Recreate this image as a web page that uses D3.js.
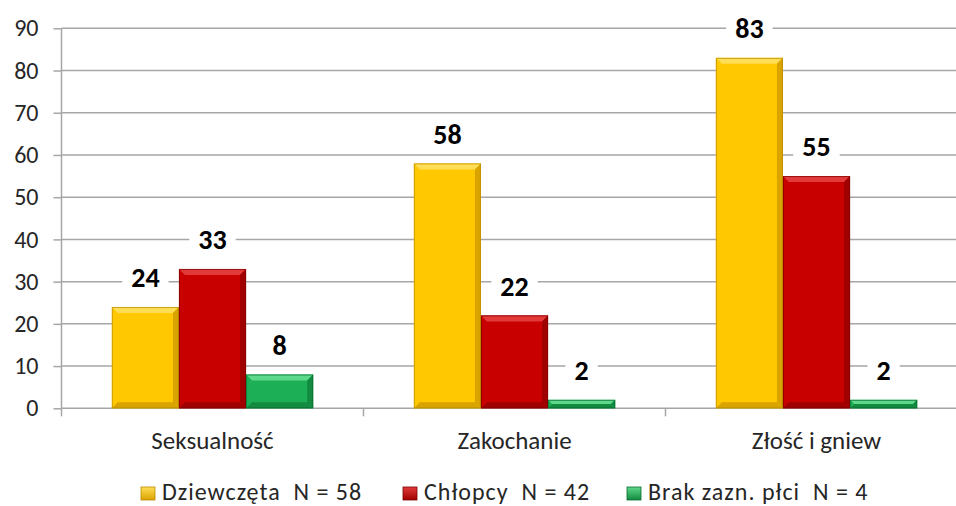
<!DOCTYPE html>
<html><head><meta charset="utf-8">
<script src="https://cdn.jsdelivr.net/npm/d3@7"></script>
<style>body{margin:0;background:#fff}svg{display:block}</style>
</head><body>
<svg id="c" width="956" height="506"></svg>
<script>
const categories = ["Seksualność", "Zakochanie", "Złość i gniew"];
const seriesNames = ["Dziewczęta\u00A0 N = 58", "Chłopcy\u00A0 N = 42", "Brak zazn. płci\u00A0 N = 4"];
const girls = [24, 58, 83];
const boys = [33, 22, 55];
const none = [8, 2, 2];
const yTicks = [0, 10, 20, 30, 40, 50, 60, 70, 80, 90];

const seriesValues = [girls, boys, none];
const colors = [
  {main:"#FFC800", hi:"#FFDD55", dark:"#D9A400", edge:"#B88C00"},
  {main:"#C80000", hi:"#E23A3A", dark:"#A00000", edge:"#7A0000"},
  {main:"#1CAF55", hi:"#5ED88A", dark:"#128A40", edge:"#0C6B30"}
];
const FONT = "Carlito, Lato, 'Open Sans', sans-serif";

const svg = d3.select("#c");
const plotLeft = 61.5, step = 302, plotTop = 28.3, plotBottom = 408.3;

const x0 = d3.scaleBand().domain(categories).range([plotLeft, plotLeft + step * categories.length]).paddingInner(0).paddingOuter(0);
const x1 = d3.scaleBand().domain(d3.range(seriesNames.length)).range([0, x0.bandwidth()]).paddingInner(0).paddingOuter(0.75);
const y = d3.scaleLinear().domain([0, 90]).range([plotBottom, plotTop]);

// gridlines
svg.append("g").selectAll("line").data(yTicks.filter(d => d > 0)).join("line")
  .attr("x1", plotLeft).attr("x2", 956).attr("y1", d => y(d)).attr("y2", d => y(d))
  .attr("stroke", "#A6A6A6").attr("stroke-width", 1.5);

// y axis
const yAxis = svg.append("g").attr("transform", `translate(${plotLeft},0)`)
  .call(d3.axisLeft(y).tickValues(yTicks).tickSize(8).tickPadding(15));
yAxis.select(".domain").attr("stroke", "#A6A6A6").attr("stroke-width", 1.5).attr("d", `M0,${plotTop}V${plotBottom}`);
yAxis.selectAll(".tick line").attr("stroke", "#A6A6A6").attr("stroke-width", 1.5);
yAxis.selectAll(".tick text").attr("font-family", FONT).attr("font-size", 24).attr("fill", "#262626");

// x axis
const xAxis = svg.append("g").attr("transform", `translate(0,${plotBottom})`)
  .call(d3.axisBottom(x0).tickSize(0).tickPadding(23));
xAxis.select(".domain").attr("stroke", "#A6A6A6").attr("stroke-width", 1.5).attr("d", `M${plotLeft},0H956`);
xAxis.selectAll(".tick text").attr("font-family", FONT).attr("font-size", 25).attr("fill", "#262626");
svg.append("g").selectAll("line").data(categories).join("line")
  .attr("x1", d => x0(d)).attr("x2", d => x0(d)).attr("y1", plotBottom).attr("y2", plotBottom + 8)
  .attr("stroke", "#A6A6A6").attr("stroke-width", 1.5);

// bars
const barData = [];
seriesValues.forEach((vals, s) => vals.forEach((v, i) => barData.push({s, cat: categories[i], v})));
const bars = svg.append("g").selectAll("g").data(barData).join("g");
bars.each(function(d) {
  const g = d3.select(this);
  const c = colors[d.s];
  const bx = x0(d.cat) + x1(d.s), bw = x1.bandwidth();
  const by = y(d.v), bh = y(0) - y(d.v);
  const b = Math.min(6, bh / 2);
  g.append("rect").attr("x", bx).attr("y", by).attr("width", bw).attr("height", bh).attr("fill", c.main);
  g.append("polygon").attr("points", [[bx,by],[bx+bw,by],[bx+bw-b,by+b],[bx+b,by+b]].map(p=>p.join(",")).join(" ")).attr("fill", c.hi);
  g.append("polygon").attr("points", [[bx+bw,by],[bx+bw,by+bh],[bx+bw-b,by+bh-b],[bx+bw-b,by+b]].map(p=>p.join(",")).join(" ")).attr("fill", c.dark);
  g.append("polygon").attr("points", [[bx,by+bh],[bx+bw,by+bh],[bx+bw-b,by+bh-b],[bx+b,by+bh-b]].map(p=>p.join(",")).join(" ")).attr("fill", c.dark);
  g.append("rect").attr("x", bx+0.5).attr("y", by+0.5).attr("width", bw-1).attr("height", Math.max(0, bh-1))
    .attr("fill", "none").attr("stroke", c.edge).attr("stroke-width", 1).attr("opacity", 0.7);
});

// labels
const labels = svg.append("g").selectAll("g").data(barData).join("g")
  .attr("transform", d => `translate(${x0(d.cat) + x1(d.s) + x1.bandwidth()/2},${y(d.v) - 30})`);
labels.each(function(d) {
  const g = d3.select(this);
  const rect = g.append("rect").attr("fill", "#fff");
  const t = g.append("text").text(d.v).attr("text-anchor", "middle").attr("dy", "0.36em")
    .attr("font-family", FONT).attr("font-weight", "bold").attr("font-size", 28).attr("fill", "#000");
  const w = t.node().getComputedTextLength();
  rect.attr("x", -w/2 - 9).attr("width", w + 18).attr("y", -17).attr("height", 34);
});

// legend
const legendX = [141, 403, 627];
const defs = svg.append("defs");
colors.forEach((c, i) => {
  const gr = defs.append("linearGradient").attr("id", "lg" + i).attr("x1", 0).attr("y1", 0).attr("x2", 0).attr("y2", 1);
  gr.append("stop").attr("offset", "0%").attr("stop-color", c.hi);
  gr.append("stop").attr("offset", "100%").attr("stop-color", c.dark);
});
const lg = svg.append("g").selectAll("g").data(seriesNames).join("g")
  .attr("transform", (d, i) => `translate(${legendX[i]},487)`);
lg.append("rect").attr("width", 14).attr("height", 13).attr("fill", (d, i) => `url(#lg${i})`)
  .attr("stroke", (d, i) => colors[i].edge).attr("stroke-width", 0.8);
lg.append("text").attr("x", 21).attr("y", 13).text(d => d)
  .attr("font-family", FONT).attr("font-size", 24).attr("letter-spacing", 1).attr("fill", "#262626");
</script>
</body></html>
